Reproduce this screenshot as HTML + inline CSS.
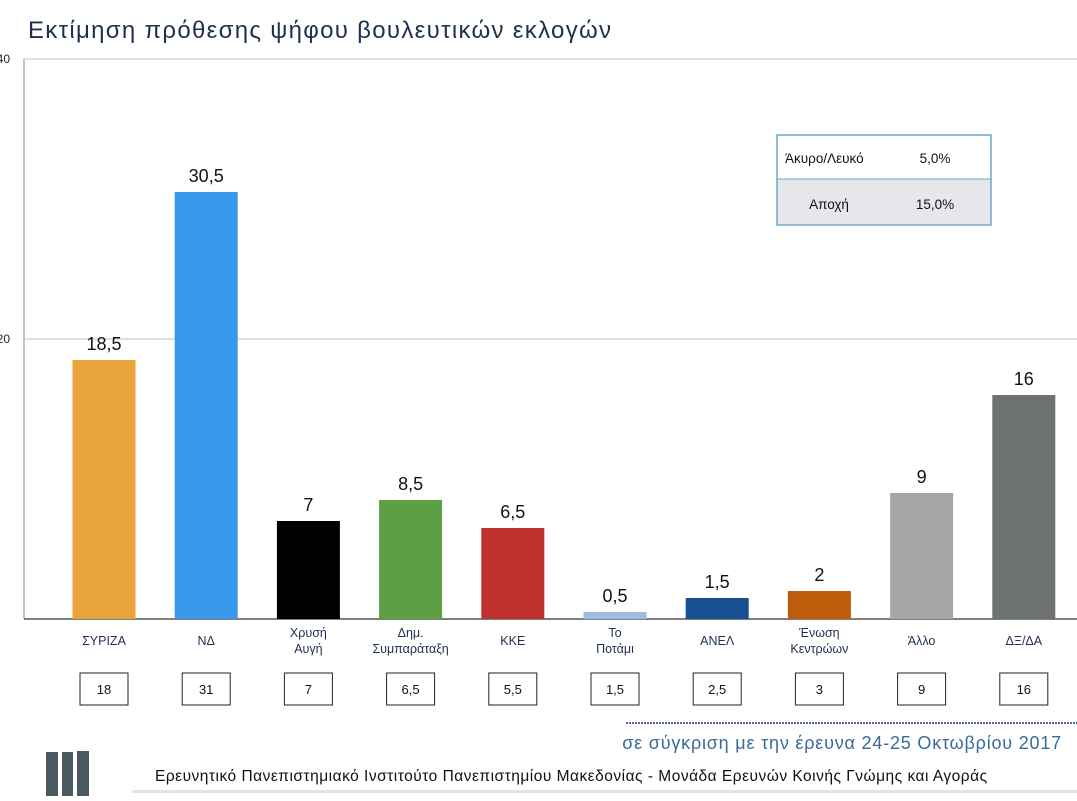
<!DOCTYPE html>
<html><head><meta charset="utf-8"><style>
body{margin:0;width:1077px;height:796px;background:#fff;overflow:hidden;font-family:"Liberation Sans","DejaVu Sans",sans-serif}
</style></head><body>
<svg id="chart" width="1077" height="796" xmlns="http://www.w3.org/2000/svg" font-family="Liberation Sans, DejaVu Sans, sans-serif">
<text x="28" y="38" font-size="24" letter-spacing="1.3" fill="#1f3050">Εκτίμηση πρόθεσης ψήφου βουλευτικών εκλογών</text>
<g id="frame"></g>
<g id="bars"></g>
<g id="labels"></g>
<g id="info-box">
<rect x="777" y="135" width="214" height="44" fill="#fff"/>
<rect x="777" y="179" width="214" height="46" fill="#e6e7ea"/>
<rect x="777" y="135" width="214" height="90" fill="none" stroke="#6fa8cc" stroke-width="1.5"/>
<line x1="777" y1="179" x2="991" y2="179" stroke="#6fa8cc" stroke-width="1"/>
<text x="785" y="163" font-size="13.5" fill="#111">Άκυρο/Λευκό</text>
<text x="935" y="163" font-size="13.5" fill="#111" text-anchor="middle">5,0%</text>
<text x="829" y="209" font-size="13.5" fill="#111" text-anchor="middle">Αποχή</text>
<text x="935" y="209" font-size="13.5" fill="#111" text-anchor="middle">15,0%</text>
</g>
<line x1="626" y1="723" x2="1077" y2="723" stroke="#1f3a70" stroke-width="1.5" stroke-dasharray="2,1"/>
<text x="1062" y="749" font-size="18" letter-spacing="0.8" fill="#3a6a9a" text-anchor="end">σε σύγκριση με την έρευνα 24-25 Οκτωβρίου 2017</text>
<g>
<rect x="46" y="752" width="12" height="44" fill="#4a5860"/>
<rect x="62" y="752" width="11" height="44" fill="#4a5860"/>
<rect x="77" y="751" width="12" height="45" fill="#4a5860"/>
</g>
<rect x="132" y="789" width="945" height="4" fill="#d0d0d0" opacity="0.6"/>
<rect x="128" y="755" width="949" height="35" fill="#fff"/>
<text x="155" y="781" font-size="15.5" letter-spacing="0.5" fill="#111">Ερευνητικό Πανεπιστημιακό Ινστιτούτο Πανεπιστημίου Μακεδονίας - Μονάδα Ερευνών Κοινής Γνώμης και Αγοράς</text>
</svg>
<script>
const categories=["ΣΥΡΙΖΑ","ΝΔ","Χρυσή|Αυγή","Δημ.|Συμπαράταξη","ΚΚΕ","Το|Ποτάμι","ΑΝΕΛ","Ένωση|Κεντρώων","Άλλο","ΔΞ/ΔΑ"];
const values=[18.5,30.5,7,8.5,6.5,0.5,1.5,2,9,16];
const valueLabels=["18,5","30,5","7","8,5","6,5","0,5","1,5","2","9","16"];
const previous=["18","31","7","6,5","5,5","1,5","2,5","3","9","16"];
const colors=["#e8a33d","#3a99ec","#000000","#5e9e44","#c0302f","#9bbde0","#174f93","#bf5c0c","#a6a6a6","#6e7370"];
const yTicks=[20,40];
const NS="http://www.w3.org/2000/svg";
const y0=619,pxPer=14;
function y(v){return y0-v*pxPer;}
function xc(i){return 104+i*102.2;}
function mk(tag,attrs,parent){const e=document.createElementNS(NS,tag);for(const k in attrs)e.setAttribute(k,attrs[k]);parent.appendChild(e);return e;}
const frame=document.getElementById('frame'),bars=document.getElementById('bars'),labels=document.getElementById('labels');
let l=mk('line',{x1:24,y1:y(40),x2:24,y2:y0,stroke:'#b0b0b0','stroke-width':1.5},frame);


l=mk('line',{x1:24,y1:y(40),x2:1077,y2:y(40),stroke:'#c0c0c0','stroke-width':1},frame);


yTicks.forEach(t=>{
  if(t!==40){const g=mk('line',{x1:24,y1:y(t),x2:1077,y2:y(t),stroke:'#c0c0c0','stroke-width':1},frame);
  
  }
  const tx=mk('text',{x:10,y:y(t)+4,'font-size':12,fill:'#222','text-anchor':'end'},frame);tx.textContent=t;
  
  
});
l=mk('line',{x1:24,y1:y0,x2:1077,y2:y0,stroke:'#555','stroke-width':1.5},frame);


const bw=63;
categories.forEach((c,i)=>{
  const cx=xc(i);
  const r=mk('rect',{x:cx-bw/2,y:y(values[i]),width:bw,height:values[i]*pxPer,fill:colors[i]},bars);
  
  
  const vt=mk('text',{x:cx,y:y(values[i])-10,'font-size':18,fill:'#111','text-anchor':'middle'},labels);vt.textContent=valueLabels[i];
  
  
  const parts=c.split('|');
  parts.forEach((p,j)=>{
    const yy=parts.length===1?645:637+j*16;
    const t=mk('text',{x:cx,y:yy,'font-size':12.5,fill:'#1f3050','text-anchor':'middle'},labels);t.textContent=p;
    
    
  });
  const b=mk('rect',{x:cx-24,y:673,width:48,height:32,fill:'#fff',stroke:'#222','stroke-width':1},labels);
  
  
  const pt=mk('text',{x:cx,y:694,'font-size':13,fill:'#111','text-anchor':'middle'},labels);pt.textContent=previous[i];
  
  
});
</script>
</body></html>
